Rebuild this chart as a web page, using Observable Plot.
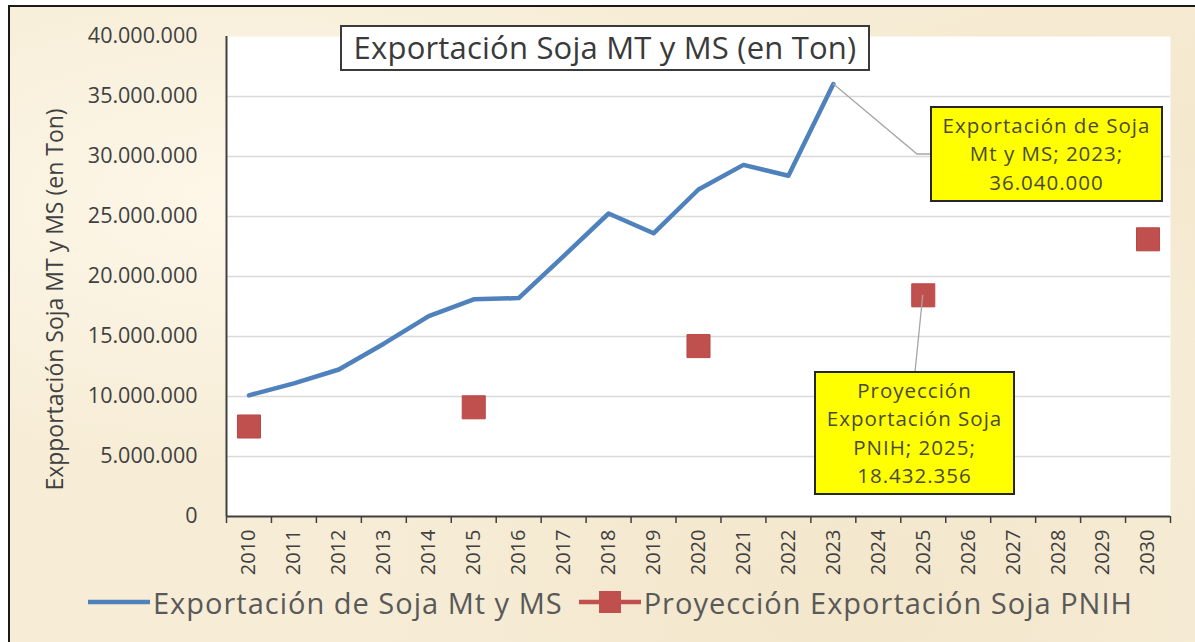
<!DOCTYPE html>
<html>
<head>
<meta charset="utf-8">
<script src="https://cdn.jsdelivr.net/npm/d3@7"></script>
<script src="https://cdn.jsdelivr.net/npm/@observablehq/plot@0.6"></script>
<style>
html,body{margin:0;padding:0;}
body{width:1195px;height:642px;overflow:hidden;position:relative;background:#ffffff;font-family:"Open Sans",sans-serif;}
#bg{position:absolute;left:8px;top:5px;width:1200px;height:650px;border-left:2px solid #1a1a1a;border-top:2px solid #1a1a1a;
  background:
   radial-gradient(ellipse at 20% 30%, rgba(255,250,238,0.8), rgba(255,250,238,0) 40%),
   radial-gradient(ellipse at 70% 90%, rgba(240,226,196,0.6), rgba(240,226,196,0) 45%),
   radial-gradient(ellipse at 95% 20%, rgba(242,228,198,0.6), rgba(242,228,198,0) 35%),
   #f7edd7;}
#chart{position:absolute;left:0;top:0;}
#title{position:absolute;left:340px;top:25px;width:530px;height:46px;box-sizing:border-box;border:2px solid #3a3a3a;background:#fff;color:#3a3a3a;font-size:31px;line-height:41px;text-align:center;white-space:nowrap;letter-spacing:0.2px;}
#legend{position:absolute;top:580px;left:88px;height:44px;display:flex;align-items:center;color:#595959;font-size:29px;white-space:nowrap;letter-spacing:1px;}
#legend svg{display:block;}
</style>
</head>
<body>
<div id="bg"></div>
<div id="chart"></div>
<div id="title"></div>
<div id="legend"></div>
<script>
// ---- data ----
const years = [2010, 2011, 2012, 2013, 2014, 2015, 2016, 2017, 2018, 2019, 2020,
               2021, 2022, 2023, 2024, 2025, 2026, 2027, 2028, 2029, 2030];
const exportYears = [2010, 2011, 2012, 2013, 2014, 2015, 2016, 2017, 2018, 2019, 2020, 2021, 2022, 2023];
const exportValues = [10100000, 11100000, 12250000, 14400000, 16700000, 18100000, 18200000,
                      21700000, 25250000, 23600000, 27250000, 29300000, 28400000, 36040000];
const projYears = [2010, 2015, 2020, 2025, 2030];
const projValues = [7500000, 9100000, 14200000, 18432356, 23100000];
const yTicks = [0, 5000000, 10000000, 15000000, 20000000, 25000000, 30000000, 35000000, 40000000];
const gridTicks = [5000000, 10000000, 15000000, 20000000, 25000000, 30000000, 35000000];

const titleText = "Exportación Soja MT y MS (en Ton)";
const yLabel = "Expportación Soja MT y MS (en Ton)";
const seriesNames = ["Exportación de Soja Mt y MS", "Proyección Exportación Soja PNIH"];
const callout1 = ["Exportación de Soja", "Mt y MS; 2023;", "36.040.000"];
const callout2 = ["Proyección", "Exportación Soja", "PNIH; 2025;", "18.432.356"];

// ---- derived tables ----
const exportTable = exportYears.map((year, i) => ({year, value: exportValues[i]}));
const projTable = projYears.map((year, i) => ({year, value: projValues[i]}));
const bounds = [...years.map(y => y - 0.5), years[years.length - 1] + 0.5];

const locale = d3.formatLocale({decimal: ",", thousands: ".", grouping: [3], currency: ["", ""]});
const fmt = locale.format(",d");

const blue = "#4f81bd", red = "#c0504d";
const axisColor = "#404040";

// callout layout (pixel boxes for the annotation labels)
const callouts = [
  {year: 2023, value: exportValues[13], lines: callout1, box: {x: 931, y: 107, w: 231, h: 94}, elbow: [[917, 154], [931, 154]]},
  {year: 2025, value: projValues[3], lines: callout2, box: {x: 815, y: 372, w: 199, h: 122}, elbow: [[915, 372]]}
];

function calloutMark(index, scales) {
  const g = d3.create("svg:g");
  for (const c of callouts) {
    const px = scales.x(c.year), py = scales.y(c.value);
    const pts = [[px, py], ...c.elbow];
    g.append("path")
      .attr("d", d3.line()(pts))
      .attr("fill", "none")
      .attr("stroke", "#a6a6a6")
      .attr("stroke-width", 1.3);
    g.append("rect")
      .attr("x", c.box.x).attr("y", c.box.y)
      .attr("width", c.box.w).attr("height", c.box.h)
      .attr("fill", "#ffff00")
      .attr("stroke", "#262626")
      .attr("stroke-width", 2);
    const lh = 28.5;
    const cy = c.box.y + c.box.h / 2;
    const first = cy - lh * (c.lines.length - 1) / 2;
    c.lines.forEach((t, i) => {
      g.append("text")
        .attr("x", c.box.x + c.box.w / 2)
        .attr("y", first + i * lh)
        .attr("dy", "0.36em")
        .attr("text-anchor", "middle")
        .attr("font-family", "Open Sans")
        .attr("font-size", 20.5)
        .attr("letter-spacing", "1px")
        .attr("fill", "#4a4a33")
        .text(t);
    });
  }
  return g.node();
}

const chart = Plot.plot({
  width: 1195,
  height: 580,
  marginLeft: 226,
  marginRight: 25,
  marginTop: 36,
  marginBottom: 64,
  style: {background: "transparent", overflow: "visible", fontFamily: "Open Sans", color: axisColor},
  x: {type: "linear", domain: [bounds[0], bounds[bounds.length - 1]], axis: null, label: null},
  y: {domain: [0, 40000000], axis: null, label: null},
  marks: [
    Plot.frame({fill: "white", stroke: null}),
    Plot.gridY(gridTicks, {stroke: "#d9d9d9", strokeOpacity: 1, strokeWidth: 1.5}),
    Plot.axisY(yTicks, {tickSize: 0, tickPadding: 29, tickFormat: fmt, fontSize: 21.5, label: null}),
    Plot.axisX(years, {tickSize: 0, tickPadding: 13, tickRotate: -90, fontSize: 20, tickFormat: d => String(d), label: null}),
    Plot.axisX(bounds, {tickSize: 7, tickFormat: () => "", stroke: axisColor, strokeWidth: 1.5, label: null}),
    Plot.ruleY([0], {stroke: axisColor, strokeWidth: 2}),
    Plot.ruleX([bounds[0]], {stroke: axisColor, strokeWidth: 2}),
    Plot.text([yLabel], {frameAnchor: "left", textAnchor: "middle", rotate: -90, dx: -171, dy: 23, fontSize: 23, fill: axisColor}),
    Plot.line(exportTable, {x: "year", y: "value", stroke: blue, strokeWidth: 4.5, strokeLinejoin: "round", strokeLinecap: "round"}),
    Plot.dot(projTable, {x: "year", y: "value", symbol: "square", r: 13, fill: red, stroke: "#b8474a", strokeWidth: 1}),
    calloutMark
  ]
});
document.getElementById("chart").appendChild(chart);

document.getElementById("title").textContent = titleText;

// legend
const legend = document.getElementById("legend");
function swatch(kind) {
  const s = d3.create("svg").attr("width", 62).attr("height", 30);
  s.append("line").attr("x1", 0).attr("x2", 62).attr("y1", 15).attr("y2", 15)
    .attr("stroke", kind === 0 ? blue : red).attr("stroke-width", 4.5);
  if (kind === 1) {
    s.append("rect").attr("x", 20).attr("y", 4).attr("width", 22).attr("height", 22).attr("fill", red);
  }
  return s.node();
}
seriesNames.forEach((name, i) => {
  const item = document.createElement("div");
  item.style.display = "flex";
  item.style.alignItems = "center";
  item.style.marginRight = i === 0 ? "16px" : "0";
  item.appendChild(swatch(i));
  const span = document.createElement("span");
  span.textContent = name;
  span.style.marginLeft = "3px";
  item.appendChild(span);
  legend.appendChild(item);
});
</script>
</body>
</html>
